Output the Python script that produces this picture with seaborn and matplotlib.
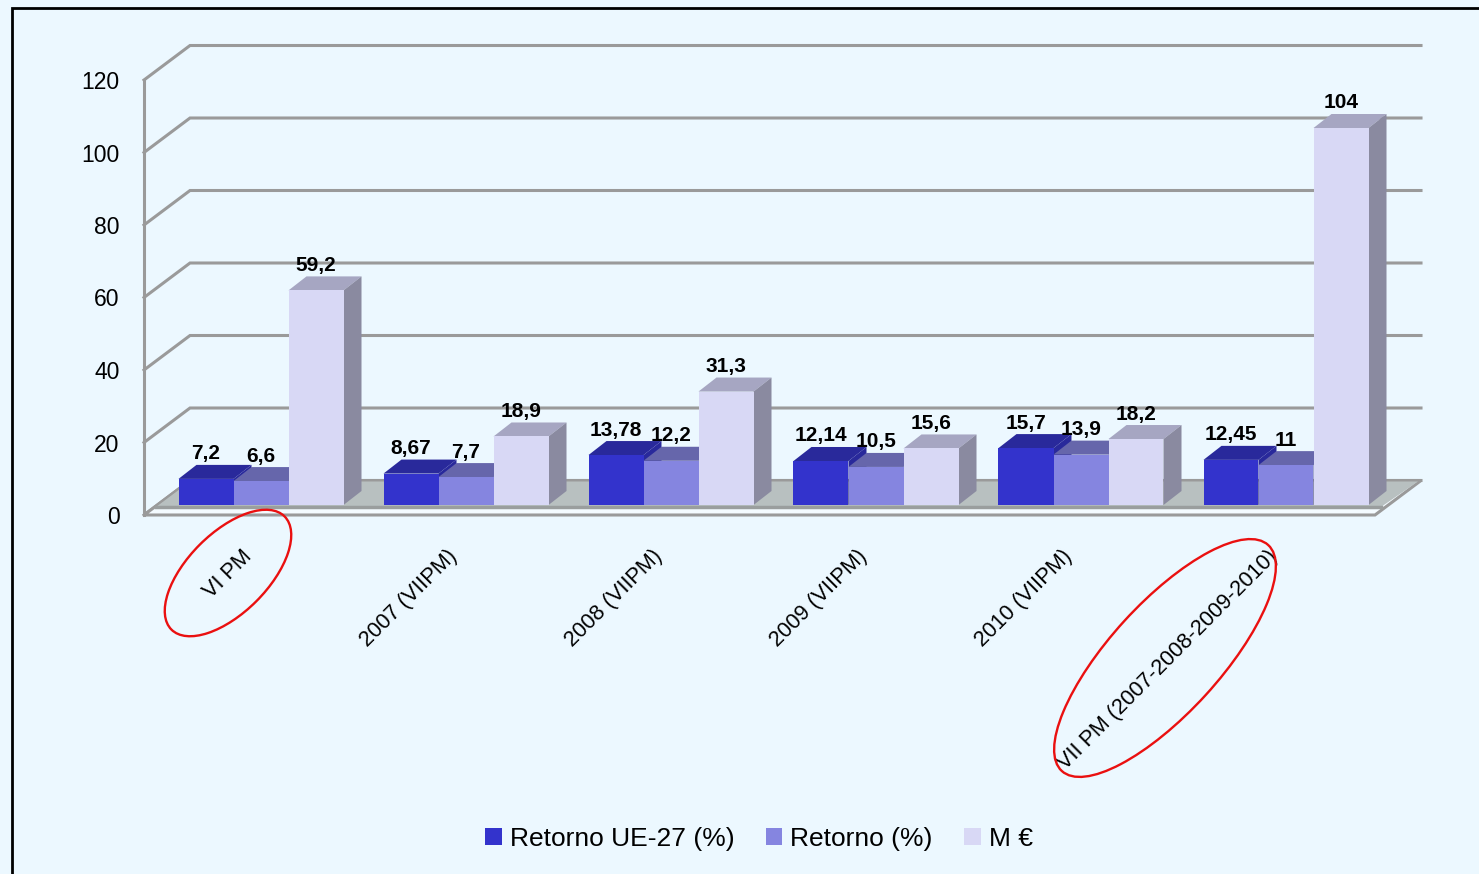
import pandas as pd
import numpy as np
import matplotlib
matplotlib.use('Agg')
import matplotlib.pyplot as plt
from matplotlib.patches import Polygon, Ellipse
import seaborn as sns

categorias = ['VI PM', '2007 (VIIPM)', '2008 (VIIPM)', '2009 (VIIPM)', '2010 (VIIPM)',
              'VII PM (2007-2008-2009-2010)']
retorno_ue = [7.2, 8.67, 13.78, 12.14, 15.7, 12.45]
retorno = [6.6, 7.7, 12.2, 10.5, 13.9, 11]
milhoes = [59.2, 18.9, 31.3, 15.6, 18.2, 104]
series = ['Retorno UE-27 (%)', 'Retorno (%)', 'M €']
cores = ['#3333CC', '#8585E0', '#D8D8F5']
topos = ['#29299B', '#6666AB', '#A6A6C2']
lados = ['#29299B', '#5F5FA0', '#8A8AA0']
ticks = [0, 20, 40, 60, 80, 100, 120]

df = pd.DataFrame({
    'cat': categorias * 3,
    'serie': np.repeat(series, len(categorias)),
    'valor': retorno_ue + retorno + milhoes,
})

FUNDO = '#ECF8FF'
W, H = 1479, 874
PX, PY = 205, 3.625  # pixels por unidade
Y_MIN, Y_MAX = -3, 130
plt.rcParams['font.family'] = ['Liberation Sans', 'DejaVu Sans']

fig = plt.figure(figsize=(W / 100, H / 100), dpi=100, facecolor=FUNDO)
base_px = 505 - Y_MIN * PY
ax = fig.add_axes([158.5 / W, (H - base_px) / H, 1230 / W, (Y_MAX - Y_MIN) * PY / H])
ax.patch.set_alpha(0)

sns.barplot(data=df, x='cat', y='valor', hue='serie', palette=cores, width=165 / 205,
            saturation=1, ax=ax, linewidth=0)
ax.set_xlabel('')
ax.set_ylabel('')
for s in ax.spines.values():
    s.set_visible(False)

# uma container por serie
barras = [(p, k) for k, cont in enumerate(ax.containers) for p in cont]
barras.sort(key=lambda b: b[0].get_x())

# paredes e chao
xl, xr = (144 - 261) / PX, (1375 - 261) / PX
dx_w = 46 / PX
y_f, y_b = -10 / PY, 24.5 / PY
cinza = '#9A9A9A'
for v in ticks:
    ax.plot([xl, xl + dx_w, xr + dx_w], [v + y_f, v + y_b, v + y_b], color=cinza, lw=2.2,
            zorder=1, clip_on=False, solid_joinstyle='miter')
ax.plot([xl, xl], [y_f, 120 + y_f], color=cinza, lw=2.2, zorder=1, clip_on=False)
ax.add_patch(Polygon([(xl, y_f), (xl + dx_w, y_b), (xr + dx_w, y_b), (xr, y_f)], closed=True,
                     fc='#F4FBFF', ec='#9A9A9A', lw=2.2, zorder=1.5, clip_on=False))
ax.add_patch(Polygon([(xl + 12 / PX, -2 / PY), (xl + dx_w, y_b - 1 / PY),
                      (xr + dx_w - 3 / PX, y_b - 1 / PY), (xr + 6 / PX, -2 / PY)], closed=True,
                     fc='#B8C0C0', ec='none', zorder=1.6, clip_on=False))
ax.plot([xl + 12 / PX, xr + 6 / PX], [-2 / PY, -2 / PY], color='#9A9E9E', lw=2.5, zorder=1.7,
        clip_on=False)

# caras 3D a partir das barras desenhadas pelo seaborn
dx_b, dy_b = 18 / PX, 14 / PY
for z, (p, k) in enumerate(barras):
    x0, w, h = p.get_x(), p.get_width(), p.get_height()
    zb = 3 + z * 0.01
    p.set_zorder(zb + 0.002)
    ax.add_patch(Polygon([(x0, h), (x0 + dx_b, h + dy_b), (x0 + w + dx_b, h + dy_b), (x0 + w, h)],
                         closed=True, fc=topos[k], ec='none', zorder=zb, clip_on=False))
    ax.add_patch(Polygon([(x0 + w, 0), (x0 + w + dx_b, dy_b), (x0 + w + dx_b, h + dy_b), (x0 + w, h)],
                         closed=True, fc=lados[k], ec='none', zorder=zb, clip_on=False))
    ax.text(x0 + w / 2, h + 25 / PY, f'{h:g}'.replace('.', ','), ha='center', va='center',
            fontsize=15, fontweight='bold', color='black', zorder=5, clip_on=False)

# eixos
ax.set_yticks([v + y_f for v in ticks], labels=[str(v) for v in ticks])
ax.tick_params(axis='y', length=0, pad=28, labelsize=16.5)
ax.set_xticks([i - 12 / PX for i in range(len(categorias))], labels=categorias)
ax.tick_params(axis='x', length=0, pad=27, labelsize=15.7)
for t in ax.get_xticklabels():
    t.set_rotation(45)
    t.set_ha('right')
    t.set_rotation_mode('anchor')
    t.set_va('center')
ax.set_xlim(-0.5, 5.5)
ax.set_ylim(Y_MIN, Y_MAX)

sns.move_legend(ax, loc='center', bbox_to_anchor=(759 / W, (H - 839) / H),
                bbox_transform=fig.transFigure, ncol=3, frameon=False, title=None,
                fontsize=19, handlelength=0.62, handleheight=0.62, handletextpad=0.3,
                columnspacing=1.2)

# moldura e elipses
over = fig.add_axes([0, 0, 1, 1], zorder=10)
over.set_xlim(0, W)
over.set_ylim(H, 0)
over.axis('off')
over.plot([11.5, 11.5, W], [H, 8, 8], color='black', lw=2, solid_joinstyle='miter')
over.add_patch(Ellipse((228, 573), 160, 80, angle=-45, fc='none', ec='#EA1010', lw=1.7))
over.add_patch(Ellipse((1165, 658), 306, 110, angle=-47.6, fc='none', ec='#EA1010', lw=1.7))

fig.savefig('out.png', dpi=100, facecolor=FUNDO)
